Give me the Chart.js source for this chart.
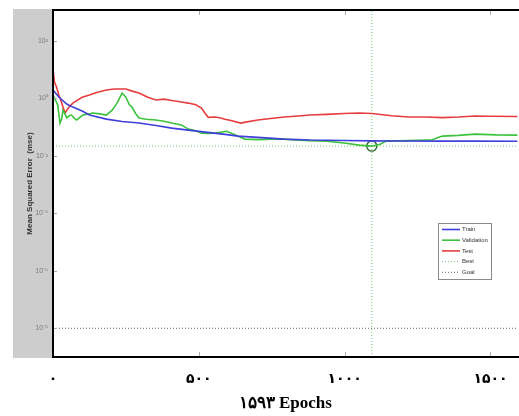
<!DOCTYPE html>
<html><head><meta charset="utf-8">
<script src="https://cdn.jsdelivr.net/npm/chart.js@4"></script>
<style>html,body{margin:0;padding:0;background:#fff;overflow:hidden}#wrap{width:519px;height:416px;overflow:hidden;position:relative}canvas{display:block}</style>
</head><body><div id="wrap"><canvas id="c" width="524" height="416"></canvas></div>
<script>
// ---- data ----
const trainEpochs=[0,20,47,68,100,125,183,237,295,353,407,464,522,590,634,702,793,881,997,1093,1200,1336,1450,1593];
const trainMse=[1.96,1.12,0.64,0.50,0.364,0.264,0.191,0.157,0.139,0.114,0.093,0.079,0.0675,0.056,0.049,0.0442,0.0385,0.0356,0.0345,0.0335,0.0330,0.0328,0.0326,0.0325];

const valEpochs=[0,8,16,24,30,34,41,47,56,64,72,81,92,102,125,136,160,183,203,220,237,250,262,271,283,295,320,353,380,407,440,464,490,509,530,556,595,634,658,702,746,793,827,881,939,997,1051,1093,1120,1142,1220,1278,1300,1320,1336,1390,1447,1520,1593];
const valMse=[1.3,0.9,0.6,0.139,0.2,0.39,0.30,0.21,0.25,0.264,0.21,0.177,0.22,0.264,0.29,0.31,0.29,0.264,0.39,0.7,1.54,1.1,0.6,0.50,0.3,0.207,0.19,0.177,0.16,0.139,0.12,0.086,0.075,0.062,0.06,0.062,0.072,0.049,0.0385,0.037,0.0385,0.0385,0.0356,0.034,0.0328,0.028,0.0238,0.0219,0.025,0.0328,0.034,0.0356,0.0356,0.044,0.049,0.052,0.0575,0.054,0.053];

const testEpochs=[0,5,12,20,30,41,55,68,100,125,150,183,210,250,271,295,325,353,380,407,440,464,490,509,522,532,556,575,590,610,644,660,702,746,793,830,881,939,997,1051,1092,1109,1160,1220,1278,1336,1390,1447,1500,1593];
const testMse=[10,3.7,2.5,1.31,0.7,0.31,0.5,0.69,1.1,1.31,1.6,1.96,2.13,2.13,1.8,1.54,1.1,0.88,0.95,0.85,0.75,0.69,0.6,0.46,0.3,0.22,0.225,0.21,0.19,0.17,0.139,0.15,0.177,0.2,0.225,0.24,0.264,0.28,0.30,0.31,0.30,0.286,0.25,0.225,0.225,0.215,0.225,0.244,0.24,0.235];

const bestEpoch=1093, bestMse=0.0219, goalMse=1e-8, totalEpochs=1593;
const yTickValues=[1e-8,1e-6,1e-4,1e-2,1,1e2];
const yTickLabels=['10\u207B\u2078','10\u207B\u2076','10\u207B\u2074','10\u207B\u00B2','10\u2070','10\u00B2'];
const xTickValues=[0,500,1000,1500];
const xTickLabels=['۰','۵۰۰','۱۰۰۰','۱۵۰۰'];
const xTitle='۱۵۹۳ Epochs';
const yTitle='Mean Squared Error  (mse)';
const seriesNames=['Train','Validation','Test','Best','Goal'];

const pts=(xs,ys)=>xs.map((x,i)=>({x:x,y:ys[i]}));

const panelPlugin={id:'panel',
 beforeDraw(chart){const {ctx,chartArea:a}=chart;ctx.save();ctx.fillStyle='#fff';ctx.fillRect(0,0,chart.width,chart.height);
  ctx.fillStyle='#cdcdcd';ctx.fillRect(13,a.top-1,a.left-13,a.bottom-a.top+2);ctx.restore();},
 afterDraw(chart){const {ctx,chartArea:a,scales}=chart;ctx.save();
  // tick marks (inward)
  ctx.strokeStyle='#aaa';ctx.lineWidth=1;
  yTickValues.forEach(v=>{const y=Math.round(scales.y.getPixelForValue(v))+0.5;ctx.beginPath();ctx.moveTo(a.left,y);ctx.lineTo(a.left+4,y);ctx.stroke();});
  xTickValues.forEach(v=>{const x=Math.round(scales.x.getPixelForValue(v))+0.5;ctx.beginPath();ctx.moveTo(x,a.bottom);ctx.lineTo(x,a.bottom-5);ctx.moveTo(x,a.top);ctx.lineTo(x,a.top+5);ctx.stroke();});
  // frame
  ctx.strokeStyle='#000';ctx.lineWidth=2;ctx.beginPath();
  ctx.moveTo(a.right+2,a.top);ctx.lineTo(a.left,a.top);ctx.lineTo(a.left,a.bottom);ctx.lineTo(a.right+2,a.bottom);ctx.stroke();
  // legend
  const lx=438,ly=223,lw=53,lh=56;
  ctx.fillStyle='#fff';ctx.fillRect(lx,ly,lw,lh);ctx.strokeStyle='#8a8a8a';ctx.lineWidth=1;ctx.strokeRect(lx+0.5,ly+0.5,lw,lh);
  ctx.font='6px "Liberation Sans Narrow","Liberation Sans",Arial,sans-serif';ctx.textBaseline='middle';ctx.textAlign='left';
  seriesNames.forEach((n,i)=>{const ds=chart.data.datasets.find(d=>d.label===n);const y=ly+6.5+i*10.7;
   ctx.strokeStyle=ds.borderColor;ctx.lineWidth=ds.borderDash?1:1.6;ctx.setLineDash(ds.borderDash||[]);
   ctx.beginPath();ctx.moveTo(lx+4,y);ctx.lineTo(lx+22,y);ctx.stroke();ctx.setLineDash([]);
   ctx.fillStyle='#333';ctx.fillText(n,lx+24,y);});
  ctx.restore();}
};

new Chart(document.getElementById('c'),{type:'line',
 data:{datasets:[
  {label:'Train',data:pts(trainEpochs,trainMse),borderColor:'#3f3fdc',borderWidth:1.6,pointRadius:0,tension:0},
  {label:'Validation',data:pts(valEpochs,valMse),borderColor:'#3cc23c',borderWidth:1.6,pointRadius:0,tension:0},
  {label:'Test',data:pts(testEpochs,testMse),borderColor:'#e63e3e',borderWidth:1.6,pointRadius:0,tension:0},
  {label:'Best',data:[{x:0,y:bestMse},{x:totalEpochs,y:bestMse}],borderColor:'#7ac47a',borderWidth:1,borderDash:[1,2],pointRadius:0},
  {label:'Goal',data:[{x:0,y:goalMse},{x:totalEpochs,y:goalMse}],borderColor:'#666',borderWidth:1,borderDash:[1,2],pointRadius:0},
  {label:'BestEpoch',data:[{x:bestEpoch,y:1e-9},{x:bestEpoch,y:1200}],borderColor:'#7ac47a',borderWidth:1,borderDash:[1,2],pointRadius:0},
  {label:'BestPoint',data:[{x:bestEpoch,y:bestMse}],showLine:false,pointRadius:5,pointBorderColor:'#2c6a2c',pointBackgroundColor:'rgba(0,0,0,0)',pointBorderWidth:1.4}
 ]},
 options:{responsive:false,animation:false,events:[],
  layout:{padding:{top:10,right:1,left:0,bottom:0}},
  plugins:{legend:{display:false},tooltip:{enabled:false}},
  scales:{
   x:{type:'linear',min:0,max:totalEpochs,
    afterBuildTicks:s=>{s.ticks=xTickValues.map(v=>({value:v}));},
    afterFit:s=>{s.height=59;},
    grid:{display:false,drawTicks:false},border:{display:false},
    ticks:{padding:14,color:'#000',maxRotation:0,autoSkip:false,font:{family:'"Liberation Serif","DejaVu Sans",serif',size:14,weight:'bold'},
     callback:v=>{const i=xTickValues.indexOf(v);return i>=0?xTickLabels[i]:'';}},
    title:{display:true,text:xTitle,color:'#000',font:{family:'"Liberation Serif","DejaVu Serif",serif',size:17,weight:'bold'},padding:{top:0,bottom:2}}},
   y:{type:'logarithmic',min:1e-9,max:1200,
    afterBuildTicks:s=>{s.ticks=yTickValues.map(v=>({value:v}));},
    afterFit:s=>{s.width=53;},
    grid:{display:false,drawTicks:false},border:{display:false},
    ticks:{padding:5,color:'#7a7a7a',font:{family:'"Liberation Sans",Arial,sans-serif',size:7},
     callback:v=>{const i=yTickValues.indexOf(v);return i>=0?yTickLabels[i]:'';}},
    title:{display:true,text:yTitle,color:'#333',font:{family:'"Liberation Sans",Arial,sans-serif',size:8,weight:'bold'},padding:{top:25,bottom:0}}}
  }},
 plugins:[panelPlugin]});
</script></body></html>
